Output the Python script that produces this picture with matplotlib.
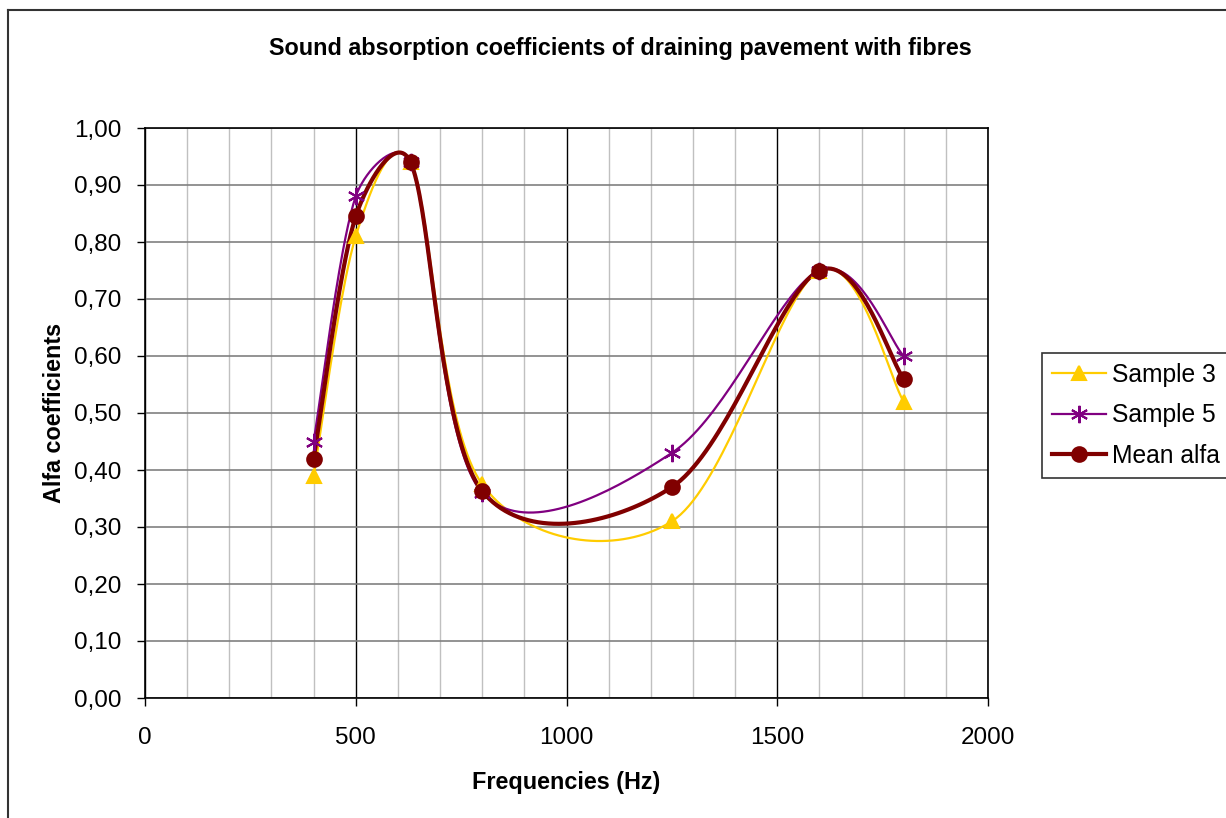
import numpy as np
import matplotlib
matplotlib.use("Agg")
import matplotlib.pyplot as plt
from matplotlib.lines import Line2D

plt.rcParams["font.family"] = ["Liberation Sans", "DejaVu Sans"]

freq = [400, 500, 630, 800, 1250, 1600, 1800]
sample3 = [0.39, 0.81, 0.94, 0.375, 0.31, 0.75, 0.52]
sample5 = [0.45, 0.88, 0.94, 0.36, 0.43, 0.75, 0.60]
mean_alfa = [0.42, 0.845, 0.94, 0.363, 0.37, 0.75, 0.56]

x_ticks = [0, 500, 1000, 1500, 2000]
y_ticks = np.arange(0, 1.01, 0.1)

W, H = 1226, 818
AX_L, AX_R, AX_T, AX_B = 145, 988, 128, 698
XMAX, YMAX = 2000, 1.0


def smooth(x, y, n=40, cap=0.45):
    # excel-like smoothed line: bezier segments, catmull-rom tangents (1/6),
    # control arm limited to a share of the segment length (in pixel space)
    sx = (AX_R - AX_L) / XMAX; sy = (AX_B - AX_T) / YMAX
    p = np.column_stack([np.asarray(x, float) * sx, np.asarray(y, float) * sy])
    p = np.vstack([p[0], p, p[-1]])
    t = np.linspace(0, 1, n)[:, None]
    out = []
    for i in range(1, len(p) - 2):
        a, b = p[i], p[i + 1]
        seg = np.hypot(*(b - a))
        c1 = (p[i + 1] - p[i - 1]) / 6
        c2 = (p[i + 2] - p[i]) / 6
        for c in (c1, c2):
            L = np.hypot(*c)
            if L > cap * seg:
                c *= cap * seg / L
        k1, k2 = a + c1, b - c2
        bz = (1 - t) ** 3 * a + 3 * (1 - t) ** 2 * t * k1 + 3 * (1 - t) * t ** 2 * k2 + t ** 3 * b
        out.append(bz)
    out = np.vstack(out)
    return out[:, 0] / sx, out[:, 1] / sy


fig = plt.figure(figsize=(W / 100, H / 100), dpi=100)
ax = fig.add_axes([AX_L / W, 1 - AX_B / H, (AX_R - AX_L) / W, (AX_B - AX_T) / H])

series = [
    ("Sample 3", sample3, "#FFCC00", "^", 1.6, 10.5),
    ("Sample 5", sample5, "#800080", (6, 2, 0), 1.6, 12.5),
    ("Mean alfa", mean_alfa, "#800000", "o", 3.0, 10.5),
]
handles = []
for name, vals, col, mk, lw, ms in series:
    sx, sy = smooth(freq, vals)
    ax.plot(sx, sy, color=col, lw=lw, zorder=3)
    ax.plot(freq, vals, ls="none", marker=mk, ms=ms, color=col, mec=col, mew=1.5, zorder=4)
    handles.append(Line2D([], [], color=col, lw=lw, marker=mk, ms=ms, mec=col, mew=1.5, label=name))

ax.set_xlim(0, XMAX); ax.set_ylim(0, YMAX)
ax.set_xticks(x_ticks)
ax.set_xticks(np.arange(0, 2001, 100), minor=True)
ax.set_yticks(y_ticks)
ax.set_yticklabels([f"{v:.2f}".replace(".", ",") for v in y_ticks])
ax.tick_params(axis="both", which="major", direction="out", length=6, width=1, labelsize=17.5)
ax.tick_params(axis="y", which="major", pad=11)
ax.tick_params(axis="x", which="major", pad=15)
ax.tick_params(axis="x", which="minor", length=0)
ax.grid(True, axis="x", which="minor", color="#c0c0c0", lw=1)
ax.grid(True, axis="x", which="major", color="black", lw=1)
ax.grid(True, axis="y", which="major", color="#808080", lw=1.2)
ax.set_axisbelow(True)
for s in ax.spines.values():
    s.set_color("black"); s.set_linewidth(1.2)

ax.set_xlabel("Frequencies (Hz)", fontsize=16.8, fontweight="bold", labelpad=16)
ax.set_ylabel("Alfa coefficients", fontsize=16.8, fontweight="bold", labelpad=5.5)
fig.text(620 / W, 1 - 48 / H, "Sound absorption coefficients of draining pavement with fibres",
         ha="center", va="center", fontsize=16.8, fontweight="bold")

# legend box runs past the right edge of the picture, as in the original
leg = fig.legend(handles=handles, loc="upper left", bbox_to_anchor=(1042 / W, 1 - 353 / H, 0.2, 0),
                 mode="expand", fontsize=17.7, frameon=True, fancybox=False, handlelength=2.2,
                 borderpad=0.4, labelspacing=0.67, handletextpad=0.25, borderaxespad=0)
leg.get_frame().set_edgecolor("black"); leg.get_frame().set_linewidth(1.2)

# outer chart border (only left and top fall inside the picture)
fig.add_artist(Line2D([8 / W, 8 / W], [0, 1 - 10 / H], transform=fig.transFigure, color="#333333", lw=1.5))
fig.add_artist(Line2D([8 / W, 1], [1 - 10 / H, 1 - 10 / H], transform=fig.transFigure, color="#333333", lw=1.5))

fig.savefig("out.png", dpi=100)
